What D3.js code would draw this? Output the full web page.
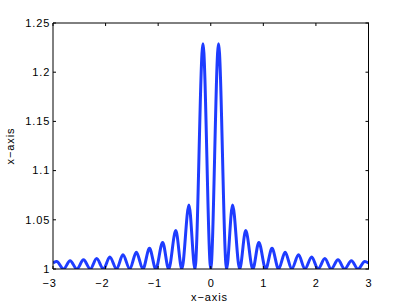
<!DOCTYPE html>
<html><head><meta charset="utf-8">
<script src="https://cdn.jsdelivr.net/npm/d3@7"></script>
<style>body{margin:0;background:#fff}svg{display:block}text{font-family:"Liberation Sans",Arial,sans-serif;font-size:11px;letter-spacing:0.9px;fill:#000}</style>
</head><body><div id="chart"></div>
<script>
// curve samples (x, y): zeros, lobe peaks and the ends
const curveX = [-3, -2.93, -2.80, -2.675, -2.545, -2.42, -2.29, -2.17, -2.04, -1.92, -1.79, -1.67, -1.54, -1.415, -1.29, -1.165, -1.045, -0.915, -0.80, -0.665, -0.55, -0.415, -0.30, -0.148, 0,
                0.148, 0.30, 0.415, 0.55, 0.665, 0.80, 0.915, 1.045, 1.165, 1.29, 1.415, 1.54, 1.67, 1.79, 1.92, 2.04, 2.17, 2.29, 2.42, 2.545, 2.675, 2.80, 2.93, 3];
const curveY = [1.006, 1.0076, 1, 1.0084, 1, 1.0094, 1, 1.0106, 1, 1.0122, 1, 1.0145, 1, 1.017, 1, 1.021, 1, 1.027, 1, 1.039, 1, 1.065, 1, 1.229, 1,
                1.229, 1, 1.065, 1, 1.039, 1, 1.027, 1, 1.021, 1, 1.017, 1, 1.0145, 1, 1.0122, 1, 1.0106, 1, 1.0094, 1, 1.0084, 1, 1.0076, 1.006];
const xTicks = [-3, -2, -1, 0, 1, 2, 3];
const xTickLabels = ["\u22123", "\u22122", "\u22121", "0", "1", "2", "3"];
const yTicks = [1, 1.05, 1.1, 1.15, 1.2, 1.25];
const yTickLabels = ["1", "1.05", "1.1", "1.15", "1.2", "1.25"];
const xLabel = "x\u2212axis";
const yLabel = "x\u2212axis";

const W = 407, H = 307;
const L = 53, R = 368.5, T = 23, B = 269;
const x = d3.scaleLinear().domain([-3, 3]).range([L, R]);
const y = d3.scaleLinear().domain([1, 1.25]).range([B, T]);

const svg = d3.select("#chart").append("svg").attr("width", W).attr("height", H);
svg.append("rect").attr("width", W).attr("height", H).attr("fill", "#fff");

svg.append("clipPath").attr("id", "clip").append("rect")
  .attr("x", L).attr("y", T).attr("width", R - L).attr("height", B - T);

const pts = curveX.map((v, i) => [v, curveY[i]]);
const line = d3.line().x(d => x(d[0])).y(d => y(d[1])).curve(d3.curveMonotoneX);
svg.append("path").datum(pts).attr("d", line)
  .attr("clip-path", "url(#clip)")
  .attr("fill", "none").attr("stroke", "#1e3cff").attr("stroke-width", 3)
  .attr("stroke-linejoin", "round");

// box
const box = svg.append("g").attr("stroke", "#000").attr("stroke-width", 1).attr("fill", "none");
box.append("line").attr("x1", L).attr("x2", L).attr("y1", T).attr("y2", B);
box.append("line").attr("x1", L).attr("x2", R).attr("y1", T).attr("y2", T);
box.append("line").attr("x1", L).attr("x2", R).attr("y1", B).attr("y2", B);
box.append("line").attr("x1", R).attr("x2", R).attr("y1", T - 0.5).attr("y2", B + 0.5);

const tl = 3;
xTicks.forEach(t => {
  box.append("line").attr("x1", x(t)).attr("x2", x(t)).attr("y1", B).attr("y2", B - tl);
  box.append("line").attr("x1", x(t)).attr("x2", x(t)).attr("y1", T).attr("y2", T + tl);
});
yTicks.forEach(t => {
  box.append("line").attr("x1", L).attr("x2", L + tl).attr("y1", y(t)).attr("y2", y(t));
  box.append("line").attr("x1", R).attr("x2", R - tl).attr("y1", y(t)).attr("y2", y(t));
});

// tick labels
xTicks.forEach((t, i) => {
  const neg = t < 0;
  svg.append("text")
    .attr("x", neg ? x(t) + 3.9 : x(t) + 0.45)
    .attr("y", 286.5)
    .attr("text-anchor", neg ? "end" : "middle")
    .text(xTickLabels[i]);
});
yTicks.forEach((t, i) => {
  svg.append("text")
    .attr("x", 50.3).attr("y", y(t))
    .attr("dy", "0.35em")
    .attr("text-anchor", "end")
    .text(yTickLabels[i]);
});

svg.append("text").attr("x", 209.5).attr("y", 301).attr("text-anchor", "middle").text(xLabel);
svg.append("text").attr("transform", "translate(14,146) rotate(-90)").attr("text-anchor", "middle").text(yLabel);
</script></body></html>
